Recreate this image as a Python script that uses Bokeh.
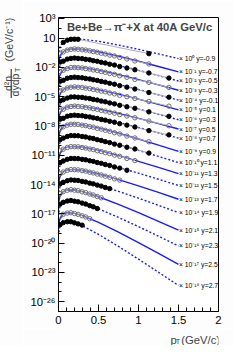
import numpy as np
from bokeh.plotting import figure
from bokeh.layouts import row, column
from bokeh.models import FixedTicker, CustomJSTickFormatter, Label, ColumnDataSource
from bokeh.embed import file_html
from bokeh.resources import INLINE
from bokeh.core.properties import value

# ---------------- data (log10 of d2n/dydpT x scale factor) ----------------
rapidity = ["-0.9", "-0.7", "-0.5", "-0.3", "-0.1", "0.1", "0.3", "0.5", "0.7",
            "0.9", "1.1", "1.3", "1.5", "1.7", "1.9", "2.1", "2.3", "2.5", "2.7"]
scale_exp = ["⁰", "⁻¹", "⁻²", "⁻³", "⁻⁴", "⁻⁵", "⁻⁶", "⁻⁷", "⁻⁸", "⁻⁹", "⁻¹⁰",
             "⁻¹¹", "⁻¹²", "⁻¹³", "⁻¹⁴", "⁻¹⁵", "⁻¹⁶", "⁻¹⁷", "⁻¹⁸"]

pt_bins = [0.02, 0.06, 0.11, 0.155, 0.2, 0.245, 0.295, 0.34, 0.39, 0.435,
           0.485, 0.535, 0.585, 0.64, 0.7, 0.765, 0.855, 0.955, 1.13, 1.38]
pt_m09 = [0.06, 0.11, 0.155, 0.2, 0.245, 1.13]

dat_m09 = [0.55, 0.78, 0.87, 0.88, 0.87, -0.60]
dat_m07 = [-0.55, -0.42, -0.24, -0.16, -0.12, -0.15, -0.20, -0.23, -0.31, -0.39, -0.45, -0.56, -0.63, -0.75, -0.84, -0.99, -1.14, -1.35, -1.66]
dat_m05 = [-1.46, -1.37, -1.16, -1.09, -1.05, -1.09, -1.11, -1.18, -1.23, -1.32, -1.38, -1.49, -1.56, -1.68, -1.77, -1.92, -2.07, -2.25, -2.58, -3.10]
dat_m03 = [-2.43, -2.30, -2.13, -2.02, -2.02, -2.04, -2.06, -2.13, -2.18, -2.27, -2.33, -2.44, -2.51, -2.63, -2.72, -2.87, -3.02, -3.24, -3.54, -4.06]
dat_m01 = [-3.42, -3.33, -3.12, -3.05, -3.01, -3.05, -3.07, -3.14, -3.19, -3.28, -3.34, -3.45, -3.52, -3.64, -3.73, -3.88, -4.03, -4.22, -4.58, -5.06]
dat_p01 = [-4.41, -4.32, -4.11, -4.04, -4.00, -4.04, -4.06, -4.13, -4.18, -4.27, -4.33, -4.44, -4.51, -4.63, -4.72, -4.87, -5.01, -5.19, -5.50, -5.98]
dat_p03 = [-5.45, -5.32, -5.15, -5.04, -5.03, -5.06, -5.08, -5.15, -5.20, -5.29, -5.35, -5.46, -5.53, -5.65, -5.74, -5.89, -6.04, -6.20, -6.56, -7.02]
dat_p05 = [-6.38, -6.29, -6.08, -6.01, -5.97, -6.01, -6.03, -6.10, -6.15, -6.24, -6.30, -6.41, -6.48, -6.60, -6.69, -6.84, -6.99, -7.17, -7.50, -7.98]
dat_p07 = [-7.31, -7.22, -7.01, -6.94, -6.90, -6.94, -6.96, -7.03, -7.08, -7.17, -7.23, -7.34, -7.41, -7.53, -7.62, -7.77, -7.92, -8.11, -8.48, -8.92]
dat_p09 = [-8.25, -8.09, -7.92, -7.83, -7.84, -7.85, -7.92, -7.97, -8.07, -8.13, -8.25, -8.33, -8.45, -8.55, -8.70, -8.82, -9.04, -9.23, -9.62]
dat_p11 = [-9.41, -9.25, -9.08, -8.99, -9.00, -9.01, -9.08, -9.13, -9.23, -9.29, -9.41, -9.49, -9.61, -9.71, -9.86, -9.98, -10.18, -10.36, -10.78]
dat_p13 = [-10.54, -10.38, -10.21, -10.12, -10.13, -10.14, -10.21, -10.26, -10.36, -10.42, -10.54, -10.62, -10.74, -10.84, -10.99, -11.11, -11.33, -11.55]
dat_p15 = [-11.75, -11.59, -11.42, -11.33, -11.34, -11.35, -11.42, -11.47, -11.57, -11.63, -11.75, -11.83, -11.95, -12.05, -12.20, -12.32, -12.54]
dat_p17 = [-12.89, -12.72, -12.55, -12.47, -12.48, -12.50, -12.58, -12.63, -12.74, -12.81, -12.93, -13.02, -13.15, -13.26, -13.42, -13.55]
dat_p19 = [-13.94, -13.77, -13.61, -13.53, -13.56, -13.59, -13.68, -13.74, -13.86, -13.93, -14.06, -14.16, -14.30, -14.42]
dat_p21 = [-14.92, -14.73, -14.59, -14.53, -14.58, -14.63, -14.75, -14.83, -14.97, -15.07, -15.23, -15.36]
dat_p23 = [-16.01, -15.82, -15.69, -15.64, -15.71, -15.77, -15.90, -16.00, -16.16, -16.28, -16.46]
dat_p25 = [-17.23, -17.04, -16.92, -16.89, -16.97, -17.05, -17.20, -17.32, -17.50]
dat_p27 = [-18.11, -17.90, -17.81, -17.81, -17.92, -18.03, -18.16]

pt_fit = [0.005, 0.015, 0.03, 0.06, 0.1, 0.15, 0.2, 0.3, 0.5, 0.75, 1.0, 1.25, 1.5]
fit_m09 = [-0.47, 0.01, 0.30, 0.58, 0.76, 0.86, 0.90, 0.87, 0.67, 0.28, -0.16, -0.63, -1.11]
fit_m07 = [-1.46, -0.98, -0.69, -0.41, -0.24, -0.15, -0.12, -0.17, -0.43, -0.87, -1.38, -1.92, -2.47]
fit_m05 = [-2.39, -1.91, -1.62, -1.34, -1.17, -1.08, -1.05, -1.10, -1.36, -1.80, -2.31, -2.85, -3.40]
fit_m03 = [-3.34, -2.86, -2.57, -2.29, -2.12, -2.03, -2.00, -2.05, -2.31, -2.75, -3.26, -3.80, -4.35]
fit_m01 = [-4.35, -3.87, -3.58, -3.30, -3.13, -3.04, -3.01, -3.06, -3.32, -3.76, -4.27, -4.81, -5.36]
fit_p01 = [-5.34, -4.86, -4.57, -4.29, -4.12, -4.03, -4.00, -4.05, -4.31, -4.75, -5.26, -5.80, -6.35]
fit_p03 = [-6.36, -5.88, -5.59, -5.31, -5.14, -5.05, -5.02, -5.07, -5.33, -5.77, -6.28, -6.82, -7.37]
fit_p05 = [-7.31, -6.83, -6.54, -6.26, -6.09, -6.00, -5.97, -6.02, -6.28, -6.72, -7.23, -7.77, -8.32]
fit_p07 = [-8.24, -7.76, -7.47, -7.19, -7.02, -6.93, -6.90, -6.95, -7.21, -7.65, -8.16, -8.70, -9.25]
fit_p09 = [-9.12, -8.65, -8.35, -8.08, -7.91, -7.83, -7.82, -7.90, -8.22, -8.75, -9.34, -9.96, -10.60]
fit_p11 = [-10.28, -9.81, -9.51, -9.24, -9.07, -8.99, -8.98, -9.06, -9.38, -9.91, -10.50, -11.12, -11.76]
fit_p13 = [-11.41, -10.94, -10.64, -10.37, -10.20, -10.12, -10.11, -10.19, -10.51, -11.04, -11.63, -12.25, -12.89]
fit_p15 = [-12.62, -12.15, -11.85, -11.58, -11.41, -11.33, -11.32, -11.40, -11.72, -12.25, -12.84, -13.46, -14.10]
fit_p17 = [-13.74, -13.27, -12.98, -12.70, -12.54, -12.47, -12.46, -12.56, -12.92, -13.50, -14.14, -14.81, -15.51]
fit_p19 = [-14.79, -14.32, -14.03, -13.76, -13.60, -13.53, -13.54, -13.65, -14.06, -14.70, -15.40, -16.13, -16.88]
fit_p21 = [-15.75, -15.28, -14.98, -14.72, -14.58, -14.53, -14.56, -14.73, -15.25, -16.03, -16.88, -17.77, -18.67]
fit_p23 = [-16.84, -16.36, -16.07, -15.81, -15.67, -15.64, -15.69, -15.89, -16.48, -17.37, -18.31, -19.29, -20.29]
fit_p25 = [-18.05, -17.58, -17.29, -17.03, -16.90, -16.89, -16.95, -17.19, -17.88, -18.88, -19.95, -21.05, -22.17]
fit_p27 = [-18.90, -18.43, -18.14, -17.90, -17.79, -17.80, -17.91, -18.23, -19.10, -20.34, -21.64, -22.98, -24.34]

ytick_exps = [3, 1, -2, -5, -8, -11, -14, -17, -20, -23, -26]

data_sets = [dat_m09, dat_m07, dat_m05, dat_m03, dat_m01, dat_p01, dat_p03, dat_p05, dat_p07,
             dat_p09, dat_p11, dat_p13, dat_p15, dat_p17, dat_p19, dat_p21, dat_p23, dat_p25, dat_p27]
fit_sets = [fit_m09, fit_m07, fit_m05, fit_m03, fit_m01, fit_p01, fit_p03, fit_p05, fit_p07,
            fit_p09, fit_p11, fit_p13, fit_p15, fit_p17, fit_p19, fit_p21, fit_p23, fit_p25, fit_p27]

FONT = "Liberation Sans"
EDGE = "#fdfdfd"

# ---------------- main plot ----------------
p = figure(width=210, height=328, x_range=(0, 2), y_range=(1e-27, 10 ** 3.1),
           y_axis_type="log", output_backend="svg", toolbar_location=None,
           min_border_left=35, min_border_right=15, min_border_top=17, min_border_bottom=17)
p.title.visible = False
p.grid.visible = False
p.outline_line_color = "black"
p.outline_line_width = 1
p.background_fill_color = "white"
p.border_fill_color = EDGE

xa = p.xaxis[0]
xa.ticker = FixedTicker(ticks=[0, 0.5, 1, 1.5, 2],
                        minor_ticks=[0.1, 0.2, 0.3, 0.4, 0.6, 0.7, 0.8, 0.9, 1.1, 1.2, 1.3,
                                     1.4, 1.6, 1.7, 1.8, 1.9])
ya = p.yaxis[0]
ya.ticker = FixedTicker(ticks=[10.0 ** e for e in ytick_exps],
                        minor_ticks=[10.0 ** e for e in range(-27, 4)])
ya.formatter = CustomJSTickFormatter(code="""
const sup = {"0":"\u2070","1":"\u00b9","2":"\u00b2","3":"\u00b3","4":"\u2074","5":"\u2075",
             "6":"\u2076","7":"\u2077","8":"\u2078","9":"\u2079","-":"\u207b"};
const e = Math.round(Math.log10(tick));
if (e == 1) { return "10"; }
return "10" + String(e).split("").map(c => sup[c]).join("");
""")
for ax in (xa, ya):
    ax.axis_line_color = "black"
    ax.major_tick_line_color = "black"
    ax.minor_tick_line_color = "black"
    ax.major_tick_out = 0
    ax.minor_tick_out = 0
    ax.major_label_text_font = FONT
    ax.major_label_text_font_size = "11.3px"
    ax.major_label_text_color = "black"
xa.major_tick_in = 7
xa.minor_tick_in = 4
xa.major_label_standoff = 4
ya.major_tick_in = 6
ya.minor_tick_in = 3
ya.major_label_standoff = 3

for i, fit in enumerate(fit_sets):
    dash = "2 2" if i % 2 == 0 else "solid"
    p.line(pt_fit, [10.0 ** v for v in fit], line_color="#1a1aff", line_width=1.4, line_dash=dash)

for i, dat in enumerate(data_sets):
    xs = pt_m09 if i == 0 else pt_bins[:len(dat)]
    p.line(xs, [10.0 ** v for v in dat], line_color="#b0b0b0", line_width=1)
for i, dat in enumerate(data_sets):
    xs = pt_m09 if i == 0 else pt_bins[:len(dat)]
    ys = [10.0 ** v for v in dat]
    if i % 2 == 0:
        p.scatter(xs, ys, marker="circle", size=4.4, fill_color="black", line_color="black")
    else:
        p.scatter(xs, ys, marker="circle", size=4.4, fill_color="white", fill_alpha=0.0,
                  line_color="#707070", line_width=1)

lab_src = ColumnDataSource(dict(
    x=[1.505] * len(fit_sets),
    y=[10.0 ** f[-1] for f in fit_sets],
    t=["× 10" + s + " y=" + r for s, r in zip(scale_exp, rapidity)]))
p.text(x="x", y="y", text="t", source=lab_src, text_font=value(FONT),
       text_font_size="6.8px", text_align="left", text_baseline="middle", text_color="black")

p.add_layout(Label(x=0.105, y=10 ** 2.1, text="Be+Be→π⁻+X at 40A GeV/c", text_font=FONT,
                   text_font_size="11.3px", text_font_style="bold", text_align="left",
                   text_baseline="alphabetic"))

# ---------------- y-axis title strip (left) ----------------
ytl = figure(width=23, height=345, x_range=(0, 23), y_range=(345, 0), x_axis_type=None,
             y_axis_type=None, output_backend="svg", toolbar_location=None, min_border=0)
ytl.title.visible = False
ytl.outline_line_color = None
ytl.background_fill_color = EDGE
ytl.border_fill_color = EDGE
ang = np.pi / 2
ytl.add_layout(Label(x=7.3, y=83.0, text="d²n", angle=ang, text_font=FONT,
                     text_font_size="10.5px", text_align="center", text_baseline="middle"))
ytl.segment(x0=[10.7], y0=[68.5], x1=[10.7], y1=[97.5], line_color="black", line_width=0.9)
ytl.add_layout(Label(x=14.6, y=84.5, text="dydp", angle=ang, text_font=FONT,
                     text_font_size="10.5px", text_align="center", text_baseline="middle"))
ytl.add_layout(Label(x=17.4, y=69.5, text="T", angle=ang, text_font=FONT,
                     text_font_size="7.5px", text_align="center", text_baseline="middle"))
ytl.add_layout(Label(x=8.0, y=39.2, text="(GeV/c⁻¹)", angle=ang, text_font=FONT,
                     text_font_size="10.5px", text_align="center", text_baseline="middle"))

# ---------------- x-axis title strip (bottom) ----------------
xtl = figure(width=210, height=17, x_range=(0, 210), y_range=(17, 0), x_axis_type=None,
             y_axis_type=None, output_backend="svg", toolbar_location=None, min_border=0)
xtl.title.visible = False
xtl.outline_line_color = None
xtl.background_fill_color = EDGE
xtl.border_fill_color = EDGE
xtl.add_layout(Label(x=147.0, y=11.0, text="p", text_font=FONT, text_font_size="11.3px",
                     text_align="left", text_baseline="alphabetic"))
xtl.add_layout(Label(x=154.0, y=12.6, text="T", text_font=FONT, text_font_size="7.2px",
                     text_align="left", text_baseline="alphabetic"))
xtl.add_layout(Label(x=161.0, y=11.0, text="(GeV/c)", text_font=FONT, text_font_size="11.3px",
                     text_align="left", text_baseline="alphabetic"))

layout = row(ytl, column(p, xtl))
open("out.html", "w").write(file_html(layout, INLINE))
